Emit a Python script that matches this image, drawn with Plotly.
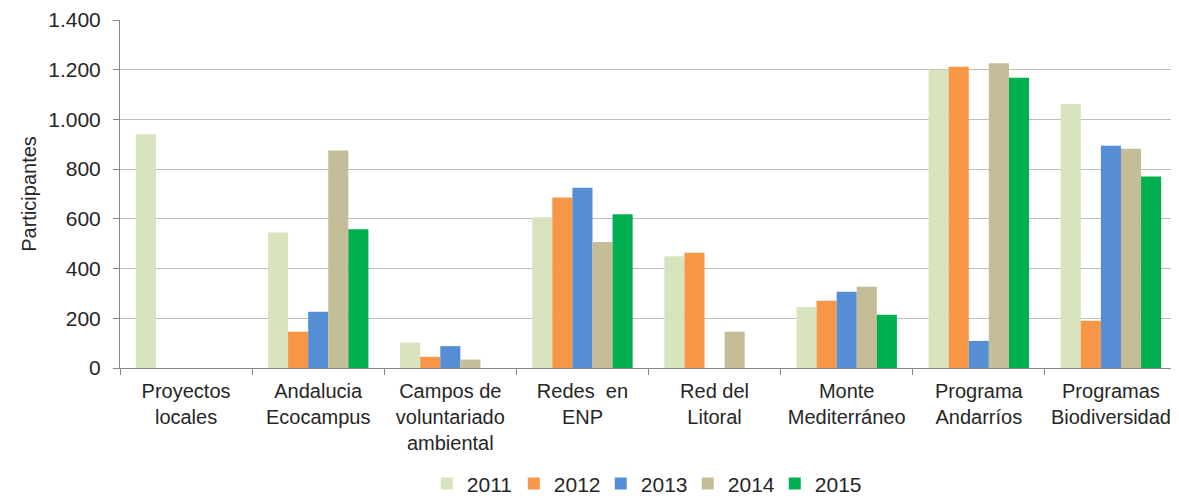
import plotly.graph_objects as go

categories = ["Proyectos<br>locales", "Andalucia<br>Ecocampus", "Campos de<br>voluntariado<br>ambiental",
              "Redes  en<br>ENP", "Red del<br>Litoral", "Monte<br>Mediterráneo",
              "Programa<br>Andarríos", "Programas<br>Biodiversidad"]
years = ["2011", "2012", "2013", "2014", "2015"]
v2011 = [940, 545, 102, 606, 450, 245, 1200, 1062]
v2012 = [None, 146, 45, 686, 464, 271, 1212, 190]
v2013 = [None, 226, 88, 725, None, 307, 109, 894]
v2014 = [None, 875, 34, 507, 146, 327, 1226, 882]
v2015 = [None, 558, None, 619, None, 214, 1168, 770]
series = [v2011, v2012, v2013, v2014, v2015]
colors = ["#D7E4BD", "#F79646", "#558ED5", "#C4BD97", "#00B050"]

fig = go.Figure()
for name, vals, col in zip(years, series, colors):
    fig.add_trace(go.Bar(name=name, x=categories, y=vals, marker_color=col,
                         marker_line_width=0))

font_family = "Liberation Sans, Arial, sans-serif"
fig.update_layout(
    width=1179, height=499,
    margin=dict(l=112, r=10, t=12, b=139, autoexpand=False),
    plot_bgcolor="white", paper_bgcolor="white",
    barmode="group", bargap=0.24, bargroupgap=0,
    separators=",.",
    font=dict(family=font_family, size=20, color="#262626"),
    legend=dict(orientation="h", x=0.496, xanchor="center", y=-0.333, yanchor="middle",
                font=dict(size=21), itemwidth=30, traceorder="normal",
                entrywidth=42, entrywidthmode="pixels"),
    showlegend=True,
)
fig.update_yaxes(range=[0, 1400], dtick=200, tickformat=",d",
                 showgrid=True, gridcolor="#BEBEBE", gridwidth=1,
                 showline=True, linecolor="#868686", linewidth=1,
                 ticks="outside", ticklen=6, tickcolor="#868686",
                 tickfont=dict(size=21), ticklabelstandoff=8,
                 title=dict(text="Participantes", font=dict(size=20), standoff=6),
                 zeroline=False, automargin=False)
fig.update_xaxes(showline=True, linecolor="#868686", linewidth=1,
                 ticks="outside", tickson="boundaries", ticklen=6, tickcolor="#868686",
                 tickfont=dict(size=20), tickangle=0, ticklabelstandoff=5,
                 automargin=False)
fig.write_html("out.html")
